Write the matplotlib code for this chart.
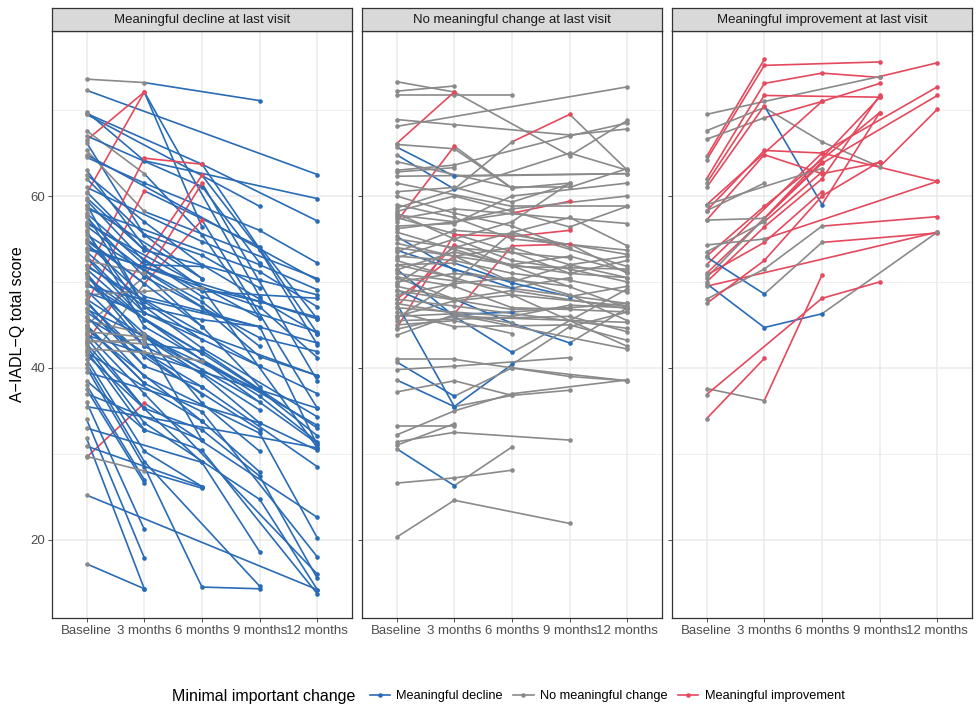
import matplotlib
matplotlib.use("Agg")
import matplotlib.pyplot as plt
from matplotlib.lines import Line2D

plt.rcParams['font.family'] = ['Liberation Sans', 'DejaVu Sans']

# x axis visits
visits = ["Baseline", "3 months", "6 months", "9 months", "12 months"]

panel_titles = ["Meaningful decline at last visit",
                "No meaningful change at last visit",
                "Meaningful improvement at last visit"]

# category per visit: d = decline, n = no change, i = improvement, - = missing
category_names = {"d": "Meaningful decline", "n": "No meaningful change", "i": "Meaningful improvement"}
colours = {"d": "#2A6BB6", "n": "#8A8A8A", "i": "#E4495D"}

# panel 1: meaningful decline at last visit  (Baseline, 3, 6, 9, 12 months)
decline_scores = [
    [73.6, 73.2, None, 71.1, None], [72.3, None, None, None, 62.5],
    [69.8, 64.1, None, None, 59.7], [69.6, None, 63.7, None, 57.1],
    [69.5, None, None, 58.8, None], [66.5, 72.1, 56.4, None, None],
    [60.3, 72.1, None, 48.3, None], [67.6, 62.6, 55.5, 45.8, None],
    [67.0, None, 61.1, 52.2, None], [66.2, 55.5, 50.4, None, None],
    [65.3, 58.2, None, None, 50.4], [64.5, 61.5, None, 56.0, 52.2],
    [51.0, 64.4, 63.7, None, 44.0], [47.5, 60.6, None, 54.1, 45.7],
    [43.0, None, 62.4, 53.7, 42.7], [45.0, 50.6, 61.5, None, 38.5],
    [40.5, 49.8, 57.2, None, 35.3], [29.6, 35.9, None, None, 22.6],
    [63.0, 54.1, 49.3, 47.7, 45.9], [62.0, 55.5, 53.1, 49.3, None],
    [61.0, None, 54.7, 52.0, 49.1], [60.5, 53.7, None, 50.2, 48.5],
    [59.5, 52.4, 48.9, None, 48.1], [59.0, 47.1, 45.6, 44.8, None],
    [58.5, None, None, 51.2, 47.1], [58.0, 52.0, 51.8, None, None],
    [57.5, 50.6, None, 43.5, 41.9], [57.0, None, 48.3, None, 44.2],
    [56.5, 51.4, 47.7, 42.5, None], [56.0, 44.8, None, None, 33.3],
    [55.5, None, 47.1, 41.3, 39.1], [55.0, 49.8, None, None, None],
    [54.5, 48.3, 46.6, None, 42.9], [54.0, None, None, 47.1, 41.2],
    [53.5, 47.7, 43.3, None, None], [53.0, 46.4, None, 40.2, 37.0],
    [52.5, 51.0, 44.8, 37.8, None], [52.0, None, 42.3, None, 34.3],
    [51.5, 45.6, 41.7, 37.4, 32.1], [51.0, 43.3, None, None, None],
    [50.5, None, 40.9, 36.7, 31.4], [50.0, 44.0, 39.8, None, None],
    [49.5, None, None, 44.8, 31.0], [49.0, 42.5, 39.4, 35.1, None],
    [48.5, 48.9, 49.3, None, 30.7], [48.0, None, 39.2, 33.6, 30.4],
    [47.5, 41.3, None, 32.8, None], [47.0, 40.2, 37.8, None, 28.5],
    [46.5, None, 36.9, None, None], [46.0, 39.0, None, 32.4, 20.2],
    [45.5, 44.0, 35.9, 30.3, None], [45.0, 38.2, 34.9, None, 18.0],
    [44.5, None, 33.8, 27.9, None], [44.0, 37.0, None, None, 16.0],
    [43.5, 35.3, 32.8, 27.4, 15.5], [43.0, 43.3, 31.6, None, None],
    [42.5, 33.6, None, 24.7, 14.2], [42.0, 32.8, 30.4, None, 13.7],
    [41.5, None, 29.0, 18.6, None], [41.0, 30.3, 26.2, None, None],
    [40.5, 29.1, None, 14.6, None], [40.0, 28.5, 14.5, 14.3, None],
    [38.0, 27.0, None, None, None], [37.5, 26.6, None, None, None],
    [36.0, 21.2, None, None, None], [34.0, 17.9, None, None, None],
    [31.8, 14.3, None, None, None], [30.9, None, 26.2, None, None],
    [29.7, 28.0, 26.0, None, None], [25.2, None, None, None, 14.2],
    [17.2, 14.3, None, None, None], [59.8, 53.7, None, None, None],
    [58.8, None, 50.4, None, None], [57.8, 47.1, None, None, None],
    [56.8, None, None, 45.8, None], [55.8, 46.4, None, None, None],
    [54.8, None, 44.8, None, None], [53.8, None, None, None, 45.7],
    [52.8, 45.6, None, None, None], [51.8, None, None, 40.2, None],
    [50.8, 42.5, None, None, None], [49.8, None, 41.7, None, None],
    [48.8, None, None, None, 39.1], [47.8, 40.2, None, None, None],
    [46.8, None, None, 37.4, None], [45.8, None, 37.8, None, None],
    [44.8, 38.2, None, None, None], [43.8, None, None, None, 35.3],
    [42.8, 35.3, None, None, None], [41.8, None, 33.8, None, None],
    [39.5, None, None, 33.6, None], [38.5, 32.8, None, None, None],
    [37.0, None, 31.6, None, None], [35.5, None, None, None, 30.7],
    [33.0, None, 29.0, None, None], [62.5, 57.0, 52.0, 48.0, 44.0],
    [64.8, None, None, None, 50.2], [43.2, 42.8, 42.0, None, 33.0],
    [44.2, 43.6, None, 36.0, None], [42.2, 41.8, 40.8, None, 31.2],
]
decline_codes = [
    "nn-d-", "n---d", "nd--d", "n-d-d", "n--d-", "nid--", "ni-d-", "nndd-",
    "n-dd-", "ndd--", "nn--d", "nd-dd", "nii-d", "ni-dd", "n-idd", "nni-d",
    "nni-d", "ni--d", "ndddd", "nddd-", "n-ddd", "nd-dd", "ndd-d", "nddd-",
    "n--dd", "ndd--", "nd-dd", "n-d-d", "nddd-", "nd--d", "n-ddd", "nd---",
    "ndd-d", "n--dd", "ndd--", "nd-dd", "nndd-", "n-d-d", "ndddd", "nd---",
    "n-ddd", "ndd--", "n--dd", "nddd-", "nnn-d", "n-ddd", "nd-d-", "ndd-d",
    "n-d--", "nd-dd", "nndd-", "ndd-d", "n-dd-", "nd--d", "ndddd", "nnd--",
    "nd-dd", "ndd-d", "n-dd-", "ndd--", "nd-d-", "nddd-", "nd---", "nd---",
    "nd---", "nd---", "nd---", "n-d--", "nnd--", "n---d", "nd---", "nd---",
    "n-d--", "nd---", "n--d-", "nd---", "n-d--", "n---d", "nd---", "n--d-",
    "nd---", "n-d--", "n---d", "nd---", "n--d-", "n-d--", "nd---", "n---d",
    "nd---", "n-d--", "n--d-", "nd---", "n-d--", "n---d", "n-d--", "ndddd",
    "n---d", "nnd-d", "nn-d-", "nnn-d",
]

# panel 2: no meaningful change at last visit
nochange_scores = [
    [73.3, 72.1, None, 64.7, 68.8], [72.2, 72.8, None, None, None],
    [71.7, 71.7, 71.7, None, None], [66.1, 72.1, None, None, None],
    [68.9, 68.3, None, 67.1, 67.8], [68.1, None, None, None, 72.7],
    [66.0, 65.5, 60.9, 61.5, None], [57.0, 65.8, 60.9, None, None],
    [65.7, 62.3, None, None, 62.6], [64.8, 60.8, 66.3, 69.5, 63.0],
    [63.0, 63.6, None, 67.0, 68.5], [62.3, None, None, None, 62.6],
    [60.5, 61.0, 59.3, 61.4, None], [59.0, 57.5, 55.0, None, 53.7],
    [58.2, 60.0, None, 56.4, 58.8], [57.8, 57.0, 58.0, 59.4, None],
    [57.5, 55.6, 53.5, 51.0, 50.5], [44.6, 55.5, 55.3, 56.0, None],
    [47.1, 54.3, None, None, 47.0], [48.0, 53.0, 50.0, None, None],
    [55.3, 51.4, 50.0, 52.0, 53.0], [53.7, None, 49.3, 50.5, None],
    [49.1, 46.2, 46.5, None, 47.5], [46.0, 46.3, 54.2, 54.4, 51.0],
    [52.0, 52.2, 49.9, 48.3, 49.5], [50.5, 48.0, 45.2, 42.9, 47.0],
    [51.5, 46.0, 41.8, None, 49.2], [47.5, 35.5, 40.4, 44.8, 46.5],
    [40.7, 36.7, 40.0, None, 38.5], [38.6, 35.5, 36.8, 37.4, None],
    [41.0, 41.0, 40.0, 39.0, 38.5], [39.8, 40.2, None, 41.2, None],
    [37.2, 38.5, 36.8, None, None], [33.2, 33.2, None, None, None],
    [32.2, 35.0, 37.0, None, 38.6], [31.4, 32.5, None, 31.6, None],
    [30.6, 26.3, 30.8, None, None], [26.6, 27.2, 28.1, None, None],
    [20.3, 24.6, None, 21.9, None], [31.0, 33.5, None, None, None],
    [58.0, 55.0, 52.5, 51.5, 50.0], [57.3, 58.5, None, None, 56.8],
    [56.2, 57.0, 58.5, None, 60.0], [55.8, None, 51.8, None, 51.5],
    [55.0, 54.0, None, 52.8, None], [54.5, 53.0, 54.0, 52.0, 50.5],
    [54.0, None, None, 51.0, 52.5], [53.5, 56.0, 55.5, None, 53.2],
    [53.0, 52.5, 51.0, 50.2, 48.8], [52.5, None, 48.5, None, 47.2],
    [52.0, 50.5, None, None, None], [51.4, 53.5, 52.0, 53.0, 51.2],
    [51.0, None, None, None, 47.5], [50.6, 49.5, 47.0, 46.8, 46.5],
    [50.0, 51.0, None, 49.5, None], [49.5, 48.0, 49.0, None, 46.9],
    [49.0, None, 46.8, 47.0, None], [48.5, 49.8, 50.5, 48.5, 45.5],
    [48.0, 47.2, None, None, 44.6], [47.5, None, 45.2, None, None],
    [47.0, 46.5, 46.0, 47.3, 47.0], [46.5, 44.8, None, 45.0, 43.2],
    [46.0, 47.8, 48.5, None, 42.5], [45.5, None, None, 46.0, 44.2],
    [45.0, 45.5, 44.0, None, None], [44.5, 46.0, None, None, 45.3],
    [60.0, 58.0, 56.5, 54.0, None], [61.5, None, 58.8, None, 58.8],
    [62.8, 63.3, None, None, None], [64.0, None, 61.0, 61.0, 63.2],
    [56.5, 56.8, 60.0, None, 61.5], [52.8, 55.0, 57.0, 61.5, None],
    [49.8, 54.0, None, 57.5, 54.2], [45.8, 50.0, 55.8, None, 51.8],
    [58.6, None, None, 65.0, 63.0], [43.8, 46.2, None, None, 42.2],
]
nochange_codes = [
    "nn-nn", "nn---", "nnn--", "ni---", "nn-nn", "n---n", "nnnn-", "nin--",
    "nd--n", "ndnin", "nn-nn", "n---n", "nnnn-", "nnn-n", "nn-nn", "nnni-",
    "nnnnn", "niii-", "ni--n", "nin--", "ndnnn", "n-dn-", "ndd-n", "nniin",
    "nnddn", "nnddn", "ndd-n", "nddnn", "ndn-n", "ndnn-", "nnnnn", "nn-n-",
    "nnn--", "nn---", "nnn-n", "nn-n-", "ndn--", "nnn--", "nn-n-", "nn---",
    "nnnnn", "nn--n", "nnn-n", "n-n-n", "nn-n-", "nnnnn", "n--nn", "nnn-n",
    "nnnnn", "n-n-n", "nn---", "nnnnn", "n---n", "nnnnn", "nn-n-", "nnn-n",
    "n-nn-", "nnnnn", "nn--n", "n-n--", "nnnnn", "nn-nn", "nnn-n", "n--nn",
    "nnn--", "nn--n", "nnnn-", "n-n-n", "nn---", "n-nnn", "nnn-n", "nnnn-",
    "nn-nn", "nnn-n", "n--nn", "nn--n",
]

# panel 3: meaningful improvement at last visit
improve_scores = [
    [64.6, 75.9, None, None, None], [64.2, 75.2, None, 75.6, None],
    [62.0, 73.1, 74.3, 73.8, None], [69.5, 71.0, None, 73.9, 75.5],
    [67.6, 70.3, 66.3, 63.4, 70.1], [66.6, 69.1, 71.0, 73.1, None],
    [61.5, 71.7, None, 71.5, None], [61.0, 70.5, 59.0, 69.7, None],
    [59.0, None, 71.0, None, None], [58.3, 65.3, 65.0, None, 61.7],
    [57.2, 64.8, 62.6, 63.9, None], [52.0, None, 65.0, None, 72.7],
    [51.0, None, 63.8, None, 71.7], [50.5, 57.4, None, 71.5, None],
    [50.0, 56.4, 62.0, 71.7, None], [49.5, None, None, None, 55.8],
    [50.8, 54.6, 60.5, None, None], [53.0, 58.8, None, 69.7, None],
    [52.9, 48.6, 54.6, None, 55.7], [49.8, 44.7, 46.3, None, 55.8],
    [37.6, 36.2, 50.8, None, None], [36.9, None, 48.1, 50.0, None],
    [34.1, 41.1, None, None, None], [54.3, 55.0, None, None, 61.7],
    [59.0, None, 63.2, None, None], [58.3, 61.5, None, None, None],
    [57.2, 57.4, 64.0, None, None], [48.0, 51.5, 56.5, None, 57.6],
    [47.5, 52.5, 60.0, 64.0, None], [53.5, 57.0, 62.8, None, None],
]
improve_codes = [
    "ni---", "ni-i-", "niii-", "nn-ni", "nnnni", "nnii-", "ni-i-", "nidi-",
    "n-i--", "nii-i", "niii-", "n-i-i", "n-i-i", "nn-i-", "niii-", "n---i",
    "nii--", "ni-i-", "ndn-i", "ndd-n", "nni--", "n-ii-", "ni---", "nn--i",
    "n-n--", "nn---", "nni--", "nnn-i", "niii-", "nni--",
]

panels = [(decline_scores, decline_codes),
          (nochange_scores, nochange_codes),
          (improve_scores, improve_codes)]

fig = plt.figure(figsize=(9.77, 7.07), dpi=100)
W, H = 977.0, 707.0
panel_left = [52, 362, 672]
panel_w = 300
bottom, top = 618, 31

for k, (scores, codes) in enumerate(panels):
    ax = fig.add_axes([panel_left[k] / W, (H - bottom) / H, panel_w / W, (bottom - top) / H])
    ax.set_xlim(0.4, 5.6)
    ax.set_ylim(10.9, 79.2)
    ax.set_facecolor("white")

    # grid
    for gy in [20, 40, 60]:
        ax.axhline(gy, color="#EBEBEB", lw=1.1, zorder=0)
    for gy in [30, 50, 70]:
        ax.axhline(gy, color="#EBEBEB", lw=0.55, zorder=0)
    for gx in range(1, 6):
        ax.axvline(gx, color="#EBEBEB", lw=1.1, zorder=0)

    # lines, segment coloured by the visit it ends at
    for vals, code in zip(scores, codes):
        pts = [(j + 1, v, code[j]) for j, v in enumerate(vals) if v is not None]
        for a, b in zip(pts[:-1], pts[1:]):
            ax.plot([a[0], b[0]], [a[1], b[1]], color=colours[b[2]], lw=1.2,
                    solid_capstyle="round", zorder=2)
    for vals, code in zip(scores, codes):
        for j, v in enumerate(vals):
            if v is not None:
                ax.plot(j + 1, v, "o", color=colours[code[j]], ms=3.3,
                        markeredgewidth=0, zorder=3)

    ax.set_xticks(range(1, 6))
    ax.set_xticklabels(visits, fontsize=9.5, color="#4D4D4D")
    ax.set_yticks([20, 40, 60])
    if k == 0:
        ax.set_yticklabels(["20", "40", "60"], fontsize=9.5, color="#4D4D4D")
        ax.set_ylabel("A\u2212IADL\u2212Q total score", fontsize=11.5, labelpad=4)
    else:
        ax.set_yticklabels([])
    ax.tick_params(length=3, width=0.6, color="#333333", pad=2)
    for s in ax.spines.values():
        s.set_color("#333333")
        s.set_linewidth(0.9)

    # strip
    sax = fig.add_axes([panel_left[k] / W, (H - top) / H, panel_w / W, 23 / H])
    sax.set_facecolor("#D9D9D9")
    sax.set_xticks([])
    sax.set_yticks([])
    for s in sax.spines.values():
        s.set_color("#333333")
        s.set_linewidth(0.9)
    sax.text(0.5, 0.5, panel_titles[k], ha="center", va="center", fontsize=9.5,
             color="#1A1A1A", transform=sax.transAxes)

# legend
handles = [Line2D([0], [0], color=colours[c], lw=1.2, marker="o", ms=3.3,
                  markeredgewidth=0) for c in "dni"]
fig.text(172 / W, 1 - 696 / H, "Minimal important change", fontsize=11.5,
         ha="left", va="center")
fig.legend(handles, [category_names[c] for c in "dni"], loc="center left",
           bbox_to_anchor=(358 / W, 1 - 696 / H), ncol=3, frameon=False,
           fontsize=9.2, handlelength=1.6, handletextpad=0.5, columnspacing=0.8)

fig.savefig("out.png", dpi=100)
